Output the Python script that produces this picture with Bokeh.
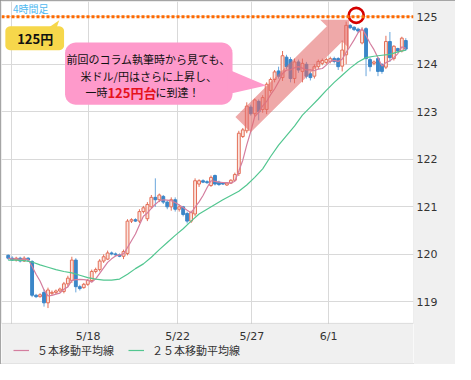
import math
import numpy as np
import pandas as pd
from bokeh.plotting import figure
from bokeh.models import (ColumnDataSource, FixedTicker, Label, Range1d, Span, BoxAnnotation,
                          Legend, LegendItem)
from bokeh.embed import file_html
from bokeh.resources import INLINE

# ---------------- data (4-hour USD/JPY candles) ----------------
opens = [119.98, 119.92, 119.88, 119.92, 119.86, 119.92, 119.85, 119.14, 119.11, 119.20,
         118.98, 119.18, 119.20, 119.23, 119.22, 119.38, 119.45, 119.88, 119.32, 119.30,
         119.37, 119.45, 119.64, 119.68, 119.86, 119.90, 120.03, 120.01, 119.99, 119.96,
         120.02, 120.70, 120.73, 120.70, 120.90, 120.75, 121.00, 121.20, 121.15, 121.22,
         121.10, 121.00, 121.15, 120.95, 121.00, 120.86, 120.70, 120.85, 121.48, 121.55,
         121.53, 121.45, 121.66, 121.52, 121.50, 121.46, 121.50, 121.56, 121.70, 122.48,
         122.60, 123.10, 122.96, 123.22, 123.05, 123.05, 123.45, 123.68, 123.86, 123.72,
         124.15, 124.10, 123.70, 124.05, 123.85, 124.00, 123.80, 123.75, 123.95, 124.02,
         124.04, 124.06, 124.12, 124.12, 123.96, 124.20, 124.82, 124.78, 124.74, 124.45,
         124.75, 124.10, 124.02, 124.12, 124.00, 123.94, 124.48, 124.12, 124.33, 124.28,
         124.50]
highs = [120.00, 119.96, 119.95, 119.95, 119.96, 119.94, 119.88, 119.17, 119.18, 119.26,
         119.30, 119.24, 119.26, 119.30, 119.42, 119.55, 119.95, 119.92, 119.36, 119.40,
         119.48, 119.68, 119.72, 119.90, 120.00, 120.08, 120.06, 120.04, 120.02, 120.10,
         120.74, 120.76, 120.76, 120.95, 121.02, 121.10, 121.25, 121.60, 121.28, 121.25,
         121.14, 121.20, 121.20, 121.05, 121.02, 120.90, 120.92, 121.60, 121.58, 121.58,
         121.56, 121.66, 121.68, 121.55, 121.52, 121.52, 121.58, 121.72, 122.60, 122.66,
         123.20, 123.15, 123.28, 123.26, 123.35, 123.62, 123.72, 123.88, 123.95, 124.28,
         124.20, 124.15, 124.12, 124.10, 124.12, 124.05, 123.85, 124.00, 124.10, 124.12,
         124.14, 124.16, 124.16, 124.15, 124.50, 124.90, 124.85, 124.80, 124.77, 124.78,
         124.78, 124.14, 124.08, 124.15, 124.02, 124.60, 124.68, 124.40, 124.35, 124.58,
         124.55]
lows = [119.88, 119.86, 119.85, 119.83, 119.84, 119.84, 119.10, 119.08, 119.09, 118.90,
        118.87, 119.14, 119.16, 119.20, 119.18, 119.32, 119.40, 119.20, 119.24, 119.28,
        119.34, 119.42, 119.60, 119.64, 119.82, 119.88, 119.98, 119.96, 119.94, 119.90,
        119.98, 120.66, 120.68, 120.66, 120.86, 120.70, 120.98, 121.00, 121.10, 121.06,
        120.95, 120.92, 120.90, 120.90, 120.80, 120.65, 120.66, 120.80, 121.42, 121.50,
        121.48, 121.42, 121.45, 121.44, 121.46, 121.44, 121.48, 121.54, 121.65, 122.45,
        122.55, 122.92, 122.90, 122.82, 122.98, 122.95, 123.40, 123.62, 123.70, 123.65,
        123.90, 123.62, 123.60, 123.82, 123.62, 123.70, 123.66, 123.70, 123.90, 123.98,
        124.00, 124.02, 124.02, 123.88, 123.85, 124.00, 124.74, 124.70, 124.66, 124.42,
        123.75, 123.85, 123.98, 123.75, 123.80, 123.90, 124.05, 124.08, 124.25, 124.25,
        124.28]
closes = [119.92, 119.88, 119.92, 119.86, 119.92, 119.88, 119.14, 119.11, 119.15, 118.98,
          119.25, 119.20, 119.23, 119.27, 119.38, 119.50, 119.88, 119.32, 119.28, 119.37,
          119.45, 119.64, 119.68, 119.86, 119.95, 120.03, 120.01, 119.99, 119.96, 120.06,
          120.70, 120.73, 120.70, 120.90, 120.98, 121.05, 121.20, 121.15, 121.25, 121.10,
          121.00, 121.15, 120.95, 121.00, 120.84, 120.70, 120.88, 121.55, 121.55, 121.52,
          121.51, 121.62, 121.48, 121.47, 121.48, 121.50, 121.56, 121.68, 122.55, 122.62,
          123.12, 122.96, 123.25, 123.00, 123.30, 123.58, 123.68, 123.84, 123.75, 124.18,
          123.95, 123.70, 124.05, 123.88, 124.02, 123.75, 123.72, 123.95, 124.06, 124.08,
          124.10, 124.12, 124.06, 123.95, 124.30, 124.82, 124.77, 124.73, 124.70, 124.72,
          124.12, 123.95, 124.05, 123.85, 123.85, 124.48, 124.14, 124.38, 124.28, 124.55,
          124.32]
# 25-period moving average, read at every second candle (includes history before the window)
ma25_step = 2
ma25 = [119.88, 119.88, 119.87, 119.84, 119.78, 119.73, 119.68, 119.64, 119.61, 119.56,
        119.51, 119.48, 119.46, 119.46, 119.48, 119.58, 119.70, 119.80, 119.94, 120.10,
        120.25, 120.40, 120.54, 120.70, 120.85, 120.95, 121.05, 121.15, 121.24, 121.33,
        121.46, 121.62, 121.80, 122.06, 122.30, 122.50, 122.70, 122.93, 123.10, 123.27,
        123.45, 123.62, 123.77, 123.92, 124.05, 124.14, 124.17, 124.19, 124.21, 124.26,
        124.30]
x_ticks = [0.7, 20.1, 42.6, 61.3, 80.6]
x_labels = ["", "5/18", "5/22", "5/27", "6/1"]
y_ticks = [119, 120, 121, 122, 123, 124, 125]
level_line = 125.0
legend_labels = ["５本移動平均線", "２５本移動平均線"]

# ---------------- layout helpers (reference pixel -> data space) ----------------
PX_FIRST, PX_STEP = 8.0, 4.13
PY_125, PX_PER_YEN = 17.0, 49.75


def dx(px):
    return (px - PX_FIRST) / PX_STEP


def dy(py):
    return 125.0 - (py - PY_125) / PX_PER_YEN


def rrect(x0, y0, x1, y1, r, n=7):
    pts = []
    for cx, cy, a0, a1 in [(x1 - r, y0 + r, -90, 0), (x1 - r, y1 - r, 0, 90),
                           (x0 + r, y1 - r, 90, 180), (x0 + r, y0 + r, 180, 270)]:
        for t in np.linspace(a0, a1, n):
            pts.append((cx + r * math.cos(math.radians(t)), cy + r * math.sin(math.radians(t))))
    return [dx(q[0]) for q in pts], [dy(q[1]) for q in pts]


def poly(points):
    return [dx(q[0]) for q in points], [dy(q[1]) for q in points]


UP_LINE = "#e46f58"
UP_FILL = "#fbe3dd"
DN_FILL = "#3b86c8"
DN_WICK = "#6aa6dc"
MA5_COLOR = "#d47e9f"
MA25_COLOR = "#52c690"
BG = "#f0f0f0"
JP = "Noto Sans CJK JP"

# the frame also covers the bottom strip (date labels + legend), painted grey below
p = figure(frame_width=412, frame_height=362, output_backend="svg", toolbar_location=None,
           y_axis_location="right",
           x_range=Range1d(dx(1), dx(429)), y_range=Range1d(dy(380), dy(1)),
           min_border_left=1, min_border_top=1, min_border_right=42, min_border_bottom=1)
p.background_fill_color = "white"
p.border_fill_color = BG
p.outline_line_color = None
p.styles = {"outline": "1px solid #8c8c8c", "outline-offset": "-1px"}

p.xaxis.visible = False
p.xgrid.ticker = FixedTicker(ticks=x_ticks)
p.yaxis.ticker = FixedTicker(ticks=y_ticks)
ax = p.yaxis[0]
ax.axis_line_color = None
ax.major_tick_line_color = None
ax.minor_tick_line_color = None
ax.major_tick_out = 0
ax.major_tick_in = 0
ax.minor_tick_out = 0
ax.minor_tick_in = 0
ax.major_label_text_font = "DejaVu Sans"
ax.major_label_text_font_size = "11px"
ax.major_label_text_color = "#333333"
ax.major_label_standoff = 3
p.grid.grid_line_color = "#d9d9d9"
p.grid.grid_line_width = 1

# ---------------- candles ----------------
df = pd.DataFrame({"i": range(len(opens)), "open": opens, "high": highs,
                   "low": lows, "close": closes})
df["top"] = df[["open", "close"]].max(axis=1)
df["bot"] = df[["open", "close"]].min(axis=1)
up = ColumnDataSource(df[df.close >= df.open])
dn = ColumnDataSource(df[df.close < df.open])

p.segment(x0="i", y0="low", x1="i", y1="high", source=dn, line_color=DN_WICK, line_width=1)
p.vbar(x="i", width=0.72, top="top", bottom="bot", source=dn,
       fill_color=DN_FILL, line_color=DN_FILL, line_width=1)
p.segment(x0="i", y0="low", x1="i", y1="high", source=up, line_color=UP_LINE, line_width=1)
p.vbar(x="i", width=0.72, top="top", bottom="bot", source=up,
       fill_color=UP_FILL, line_color=UP_LINE, line_width=1)

ma5 = pd.Series(closes).rolling(5, min_periods=1).mean()
r5 = p.line(list(df["i"]), list(ma5), line_color=MA5_COLOR, line_width=1.2)
r25 = p.line([k * ma25_step for k in range(len(ma25))], ma25, line_color=MA25_COLOR,
             line_width=1.2)

# ---------------- annotations ----------------
p.add_layout(Span(location=level_line, dimension="width", line_color="#ff6a00",
                  line_width=3, line_dash="3 2"))

ax_, ay_ = poly([(244, 122), (339, 27), (332, 20), (362, 20), (362, 50), (355, 43), (260, 138)])
p.patch(ax_, ay_, fill_color="#e46a6a", fill_alpha=0.58, line_color=None)

yx, yy = rrect(5, 27, 66, 52, 5)
p.patch(yx, yy, fill_color="#f6d74b", line_color=None)
tx, ty = poly([(49, 29), (58, 29), (61, 20.5)])
p.patch(tx, ty, fill_color="#f6d74b", line_color=None)

bx, by = rrect(67, 44, 241, 109, 11)
p.patch(bx, by, fill_color="#fe9acb", line_color=None)
tx2, ty2 = poly([(236, 72), (236, 98), (276, 89)])
p.patch(tx2, ty2, fill_color="#fe9acb", line_color=None)

p.scatter(x=[dx(369.5)], y=[dy(15.5)], marker="circle", size=15, fill_alpha=0,
          line_color="#d40000", line_width=2.6)

# grey bottom strip and the plot-area border
p.add_layout(BoxAnnotation(top=dy(338), fill_color=BG, fill_alpha=1, line_color=None))
p.add_layout(BoxAnnotation(bottom=dy(338), fill_alpha=0, line_color="#9a9a9a", line_width=1))


def lab(px, py, text, size="11px", color="#111111", align="center", style="normal", font=JP):
    p.add_layout(Label(x=dx(px), y=dy(py), text=text, text_font=font, text_font_size=size,
                       text_color=color, text_align=align, text_baseline="middle",
                       text_font_style=style))


lab(13, 8, "4時間足", size="10px", color="#4fb9f0", align="left")
lab(36, 39.5, "125円", size="13px", style="bold")
lab(154, 61, "前回のコラム執筆時から見ても、")
lab(154, 79, "米ドル/円はさらに上昇し、")
lab(111, 96, "一時", align="right")
lab(111, 96, "125円台", size="13px", color="#e5121c", align="left", style="bold")
lab(161, 96, "に到達！", align="left")

# date labels under the plot area
for t, s in zip(x_ticks, x_labels):
    p.add_layout(Label(x=t, y=dy(352), text=s, text_font="DejaVu Sans", text_font_size="11px",
                       text_color="#333333", text_align="center", text_baseline="middle"))

# ---------------- legend ----------------
legend = Legend(items=[LegendItem(label=legend_labels[0], renderers=[r5]),
                       LegendItem(label=legend_labels[1], renderers=[r25])],
                orientation="horizontal", location=(10, 3), margin=0, padding=2,
                spacing=14, label_standoff=8, glyph_width=16, glyph_height=12,
                label_height=12, label_text_font=JP, label_text_font_size="11px",
                label_text_color="#333333", background_fill_alpha=0, border_line_alpha=0)
p.add_layout(legend)

open("out.html", "w").write(file_html(p, INLINE))
